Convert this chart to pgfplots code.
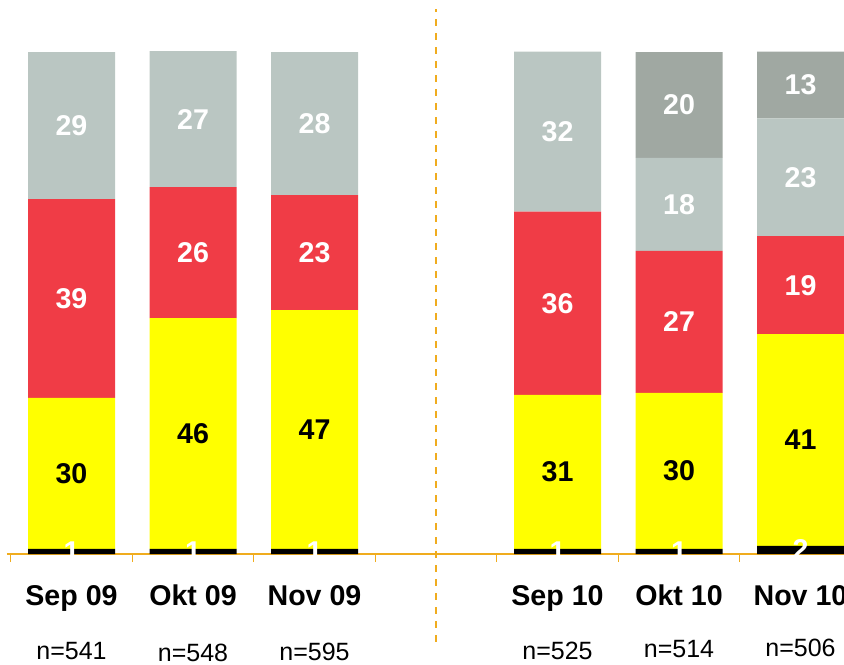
\documentclass[border=0pt]{standalone}
\usepackage{pgfplots}
\usepackage{pgfplotstable}
\pgfplotsset{compat=1.18}
\usepackage{fontspec}
\setmainfont{Liberation Sans}

\definecolor{segblack}{RGB}{0,0,0}
\definecolor{segyellow}{RGB}{255,255,0}
\definecolor{segred}{RGB}{240,60,70}
\definecolor{seglgray}{RGB}{186,198,194}
\definecolor{segdgray}{RGB}{160,168,162}
\definecolor{axorange}{RGB}{240,172,30}

% h = segment height as drawn (%), lab = printed value
\pgfplotstableread{
x h lab
0 1.0 1
1 1.0 1
2 1.0 1
4 1.0 1
5 1.0 1
6 1.6 2
}\blackdata
\pgfplotstableread{
x h lab
0 30.1 30
1 46.0 46
2 47.6 47
4 30.7 31
5 31.1 30
6 42.2 41
}\yellowdata
\pgfplotstableread{
x h lab
0 39.6 39
1 26.1 26
2 22.9 23
4 36.5 36
5 28.3 27
6 19.5 19
}\reddata
\pgfplotstableread{
x h lab
0 29.3 29
1 27.1 27
2 28.5 28
4 31.9 32
5 18.5 18
6 23.5 23
}\lgraydata
\pgfplotstableread{
x h lab
0 0 {}
1 0 {}
2 0 {}
4 0 {}
5 21.1 20
6 13.3 13
}\dgraydata

\begin{document}
\begin{tikzpicture}
\begin{axis}[
    x=60.75pt, y=2.51pt,
    xmin=-0.531, xmax=6.6,
    ymin=0, ymax=100,
    enlargelimits=false,
    clip=false,
    axis y line=none,
    axis x line=bottom,
    x axis line style={-, draw=axorange, line width=1pt},
    xtick={-0.5,0.5,...,5.5},
    xticklabels={},
    tick align=outside,
    major tick length=4pt,
    xtick style={draw=axorange, line width=0.6pt},
    ybar stacked,
    bar width=43.5pt,
    point meta=explicit symbolic,
    nodes near coords,
    every node near coord/.append style={anchor=center,
        font=\fontsize{14.3}{16}\selectfont\bfseries},
]
\addplot[fill=segblack, draw=none, nodes near coords style={text=white}]
    table[x=x, y=h, meta=lab] {\blackdata};
\addplot[fill=segyellow, draw=none, nodes near coords style={text=black}]
    table[x=x, y=h, meta=lab] {\yellowdata};
\addplot[fill=segred, draw=none, nodes near coords style={text=white}]
    table[x=x, y=h, meta=lab] {\reddata};
\addplot[fill=seglgray, draw=none, nodes near coords style={text=white}]
    table[x=x, y=h, meta=lab] {\lgraydata};
\addplot[fill=segdgray, draw=none, nodes near coords style={text=white}]
    table[x=x, y=h, meta=lab] {\dgraydata};

% separator between the two years
\draw[axorange, line width=1.3pt, dash pattern=on 3.6pt off 3.4pt]
    (axis cs:3,-17.5) -- (axis cs:3,108.6);

% category names and sample sizes
\tikzset{catlab/.style={anchor=base, font=\fontsize{14.3}{16}\selectfont\bfseries},
         nlab/.style={anchor=base, font=\fontsize{12.5}{14}\selectfont}}
\node[catlab, yshift=-25.5pt] at (axis cs:0,0) {Sep 09};
\node[catlab, yshift=-25.5pt] at (axis cs:1,0) {Okt 09};
\node[catlab, yshift=-25.5pt] at (axis cs:2,0) {Nov 09};
\node[catlab, yshift=-25.5pt] at (axis cs:4,0) {Sep 10};
\node[catlab, yshift=-25.5pt] at (axis cs:5,0) {Okt 10};
\node[catlab, yshift=-25.5pt] at (axis cs:6,0) {Nov 10};
\node[nlab, yshift=-52.5pt] at (axis cs:0,0) {n=541};
\node[nlab, yshift=-53.5pt] at (axis cs:1,0) {n=548};
\node[nlab, yshift=-53pt] at (axis cs:2,0) {n=595};
\node[nlab, yshift=-52.5pt] at (axis cs:4,0) {n=525};
\node[nlab, yshift=-51.5pt] at (axis cs:5,0) {n=514};
\node[nlab, yshift=-51pt] at (axis cs:6,0) {n=506};

\coordinate (bbBL) at (axis cs:-0.5885,-21.91);
\coordinate (bbTR) at (axis cs:6.358,110.36);
\end{axis}
\pgfresetboundingbox
\path[use as bounding box] (bbBL) rectangle (bbTR);
\end{tikzpicture}
\end{document}
